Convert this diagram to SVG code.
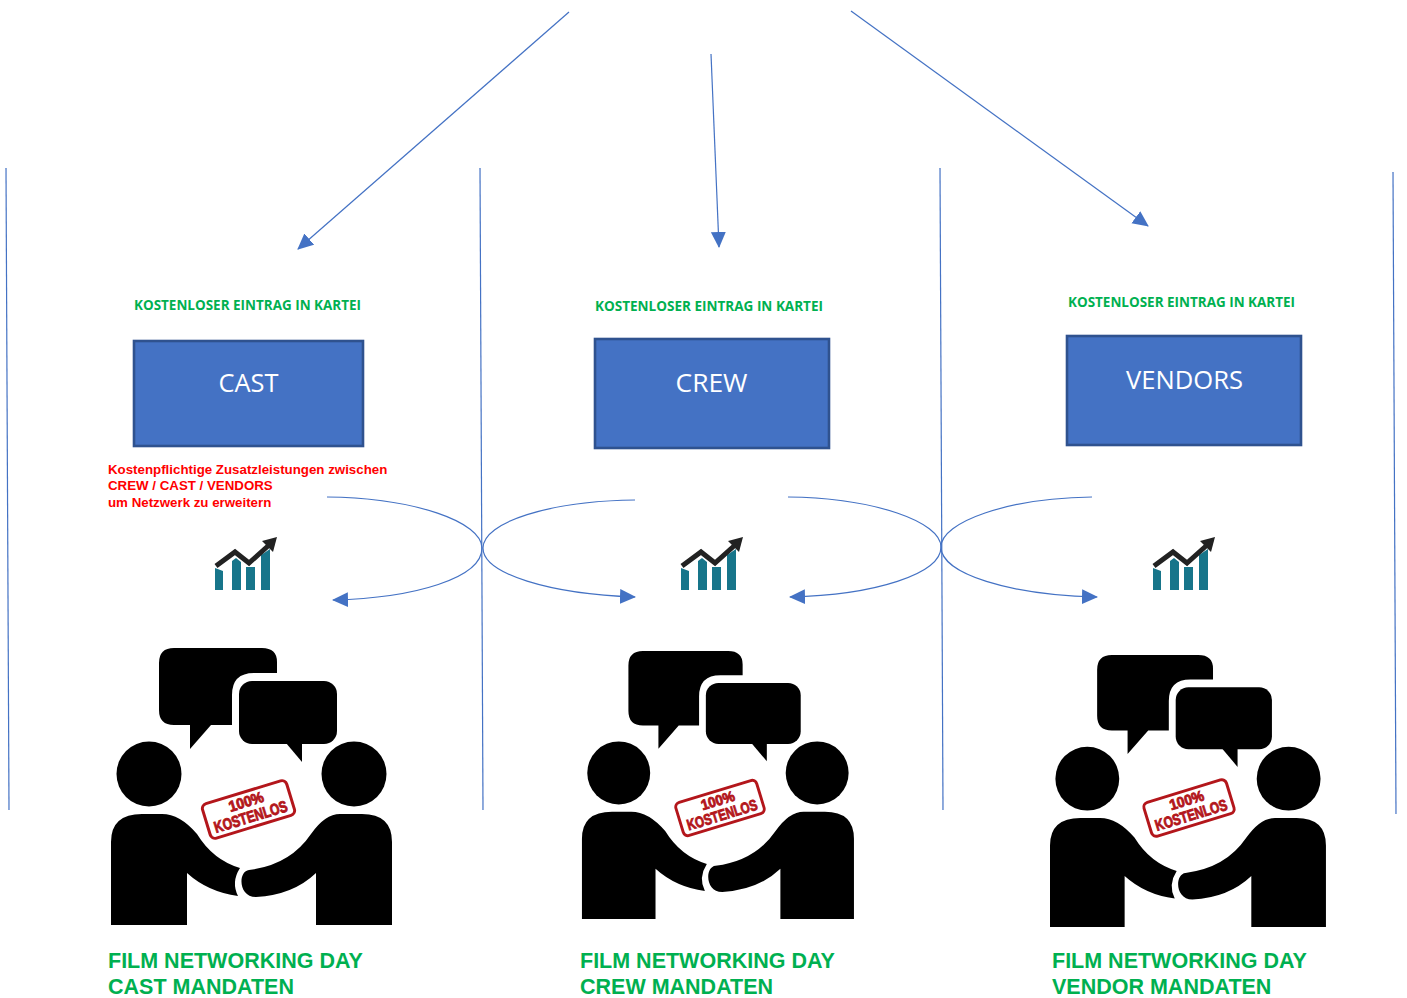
<svg xmlns="http://www.w3.org/2000/svg" width="1407" height="998" viewBox="0 0 1407 998">
<style>
.c{fill:none;stroke:#4472c4;stroke-width:1.2}
.a{marker-end:url(#arr)}
.box{fill:#4472c4;stroke:#2f528f;stroke-width:2.6}
.lbl{font-family:"Open Sans","Liberation Sans",sans-serif;font-size:26px;fill:#fff;text-anchor:middle}
.g1{font-family:"Open Sans","Liberation Sans",sans-serif;font-size:13.5px;font-weight:700;fill:#00b050}
.g2{font-family:"Liberation Sans",sans-serif;font-size:21.5px;font-weight:700;fill:#00b050}
.r{font-family:"Liberation Sans",sans-serif;font-size:13.3px;font-weight:700;fill:#ff0000}
.st{font-family:"Liberation Sans",sans-serif;font-weight:700;fill:#b3161b;stroke:#b3161b;stroke-width:.9;text-anchor:middle}
</style>
<defs>
<marker id="arr" markerUnits="userSpaceOnUse" markerWidth="18" markerHeight="16" refX="15" refY="7.5" orient="auto"><path d="M0,0L16,7.5L0,15Z" fill="#4472c4"/></marker>
<g id="people">
<path d="M174,648H262Q277,648 277,662V673H254Q232,673 232,695V725H211L190,749V725H174Q159,725 159,710V663Q159,648 174,648Z"/>
<rect x="239" y="681" width="98" height="63" rx="13"/>
<path d="M286,743L302,762V743Z"/>
<circle cx="149" cy="774" r="32.5"/>
<circle cx="354" cy="774" r="32.5"/>
<path d="M111,925V842Q111,814 142,814H162Q180,814 197,834Q213,860 240,868Q231,882 238,896Q208,892 187,873V925Z"/>
<path d="M392,925V842Q392,814 362,814H340Q325,814 311,834Q290,865 249,870C238,871 238,897 256,897Q293,895 316,873V925Z"/>
</g>
<g id="chart">
<path fill="#17758a" d="M215,568L223,571V590H215ZM232,561L236,558L241,562V590H232ZM246,567L255,567V590H246ZM261,555L270,549V590H261Z"/>
<path fill="none" stroke="#222" stroke-width="5" d="M216,566L235,552L249,563L268,546"/>
<path fill="#222" d="M277,537L273,552L262,541Z"/>
</g>
<g id="stamp">
<rect x="-44" y="-18" width="88" height="36" rx="5" fill="#fff" stroke="#b3161b" stroke-width="3"/>
<text class="st" y="-3" font-size="15" textLength="36" lengthAdjust="spacingAndGlyphs">100%</text>
<text class="st" y="13" font-size="16" textLength="76" lengthAdjust="spacingAndGlyphs">KOSTENLOS</text>
</g>
</defs>
<g id="connectors">
<path class="c a" d="M569,12L298,249"/>
<path class="c a" d="M711,54L719,247"/>
<path class="c a" d="M851,11L1148,226"/>
<path class="c" d="M6,168L9,810"/>
<path class="c" d="M480,168L483,810"/>
<path class="c" d="M940,168L943,810"/>
<path class="c" d="M1393,172L1396,814"/>
<path class="c a" d="M327,497C415,498 482,522 482,548C482,578 415,598 333,600"/>
<path class="c a" d="M635,500C550,501 483,522 483,548C483,574 550,594 635,597"/>
<path class="c a" d="M788,497C875,498 941,522 941,547C941,574 875,595 790,597"/>
<path class="c a" d="M1092,497C1008,498 941,522 941,547C941,574 1010,595 1097,597"/>
</g>
<g id="node-cast">
<text class="g1" x="134" y="310" textLength="227" lengthAdjust="spacingAndGlyphs">KOSTENLOSER EINTRAG IN KARTEI</text>
<rect class="box" x="134" y="341" width="229" height="105"/>
<text class="lbl" x="248.500" y="392" textLength="60" lengthAdjust="spacingAndGlyphs">CAST</text>
<text class="r" x="108" y="474">Kostenpflichtige Zusatzleistungen zwischen</text>
<text class="r" x="108" y="490">CREW / CAST / VENDORS</text>
<text class="r" x="108" y="507">um Netzwerk zu erweitern</text>
<use href="#chart"/>
<use href="#people"/>
<use href="#stamp" transform="translate(248.500,809.500) rotate(-17) scale(1)"/>
<text class="g2" x="108" y="968">FILM NETWORKING DAY</text>
<text class="g2" x="108" y="994">CAST MANDATEN</text>
</g>
<g id="node-crew">
<text class="g1" x="595" y="311" textLength="228" lengthAdjust="spacingAndGlyphs">KOSTENLOSER EINTRAG IN KARTEI</text>
<rect class="box" x="595" y="339" width="234" height="109"/>
<text class="lbl" x="711.500" y="392" textLength="72" lengthAdjust="spacingAndGlyphs">CREW</text>
<use href="#chart" x="466"/>
<use href="#people" transform="translate(474.500,23.700) scale(.968)"/>
<use href="#stamp" transform="translate(720,808) rotate(-17) scale(.96)"/>
<text class="g2" x="580" y="968">FILM NETWORKING DAY</text>
<text class="g2" x="580" y="994">CREW MANDATEN</text>
</g>
<g id="node-vendors">
<text class="g1" x="1068" y="307" textLength="227" lengthAdjust="spacingAndGlyphs">KOSTENLOSER EINTRAG IN KARTEI</text>
<rect class="box" x="1067" y="336" width="234" height="109"/>
<text class="lbl" x="1184.500" y="389" textLength="117" lengthAdjust="spacingAndGlyphs">VENDORS</text>
<use href="#chart" x="938"/>
<use href="#people" transform="translate(941,18.600) scale(.982)"/>
<use href="#stamp" transform="translate(1189,808) rotate(-17) scale(.98)"/>
<text class="g2" x="1052" y="968">FILM NETWORKING DAY</text>
<text class="g2" x="1052" y="994">VENDOR MANDATEN</text>
</g>
</svg>
